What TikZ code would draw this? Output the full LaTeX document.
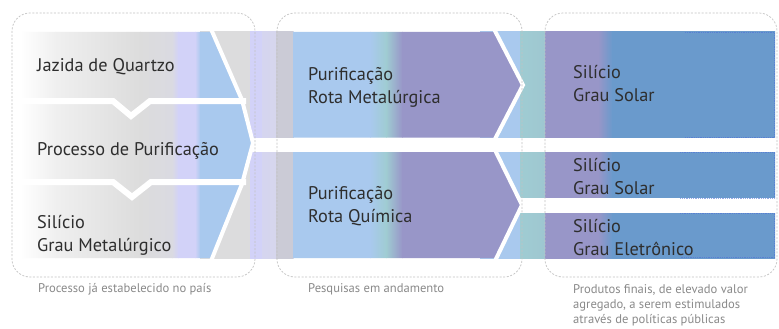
\documentclass[tikz,border=0pt]{standalone}
\usepackage{fontspec}
\setmainfont{PT Sans}
\definecolor{txt}{HTML}{2E2E2E}
\definecolor{capc}{HTML}{8A8A8A}
\definecolor{lblue}{HTML}{A9C9EE}
\definecolor{lav}{HTML}{D2D2F8}
\definecolor{purp}{HTML}{9896C8}
\definecolor{dblue}{HTML}{6A9ACC}
\definecolor{teal}{HTML}{9FCCD2}
\definecolor{lgrey}{HTML}{DCDCDC}
\definecolor{mgrey}{HTML}{CBCBD6}
\definecolor{dashc}{HTML}{C2C2C2}
\definecolor{edgeblue}{HTML}{4F6FD8}
\newcommand\bandstrip[4]{\shade[left color=#3,right color=#4] (#1,32) rectangle (#2,258);}
\begin{document}
\begin{tikzpicture}[x=1pt,y=-1pt,
  lbl/.style={anchor=base west,inner sep=0pt,font=\fontsize{18.3}{22.5}\selectfont,text=txt,align=left},
  captext/.style={anchor=base west,inner sep=0pt,font=\fontsize{12.6}{15}\selectfont,text=capc,align=left},
  sepline/.style={white,line width=6pt,line join=miter},
  edgeline/.style={white,line width=4pt,line join=miter},
  dbox/.style={draw=dashc,dash pattern=on 2pt off 1.6pt,line width=0.7pt,rounded corners=18pt},
  rimline/.style={draw=edgeblue,densely dotted,line width=0.8pt,opacity=0.6}]
\useasboundingbox (0,0) rectangle (779,329);
\fill[white] (0,0) rectangle (779,329);
% behind band 1
\bandstrip{200}{250.5}{lgrey}{lgrey!95!lav}
\bandstrip{250}{262.5}{lav}{lav}
\bandstrip{262}{276.5}{lav!70!lgrey}{lav!60!lgrey}
\bandstrip{276}{293.5}{mgrey}{mgrey}
% behind band 2
\bandstrip{480}{520.5}{lblue}{lblue}
\bandstrip{520}{545.5}{teal}{teal!90!purp}
% right products
\bandstrip{545}{598.5}{purp}{purp}
\bandstrip{598}{612.5}{purp}{dblue}
\bandstrip{612}{775}{dblue}{dblue}
% middle arrows
\begin{scope}
  \clip (293,32) -- (494,32) -- (523,85) -- (495,137.5) -- (293,137.5) -- cycle
        (293,151.5) -- (495,151.5) -- (522,205) -- (495,258) -- (293,258) -- cycle;
  \bandstrip{292}{370.5}{lblue}{lblue}
  \bandstrip{370}{386.5}{lblue}{teal}
  \bandstrip{386}{402.5}{teal}{purp}
  \bandstrip{402}{530}{purp}{purp}
\end{scope}
% left chevron
\begin{scope}
  \clip (20,32) -- (212,32) -- (242,100) -- (253,143) -- (242,184) -- (212,258) -- (20,258) -- cycle;
  \bandstrip{20}{55.5}{white}{white!94!black}
  \bandstrip{55}{140.5}{white!94!black}{lgrey}
  \bandstrip{140}{172.5}{lgrey}{lgrey!80!lav}
  \bandstrip{172}{178.5}{lgrey!80!lav}{lav}
  \bandstrip{178}{195.5}{lav}{lav}
  \bandstrip{195}{200.5}{lav}{lblue}
  \bandstrip{200}{260}{lblue}{lblue}
\end{scope}
% white separators
\draw[edgeline] (211,29) -- (242,100) -- (253,143) -- (242,184) -- (211,261);
\draw[sepline] (18,101) -- (113,101) -- (131,116) -- (150,101) -- (246,101);
\draw[sepline] (18,182) -- (113,182) -- (132,197) -- (151,182) -- (246,182);
\fill[white] (252,137.5) rectangle (779,151.5);
\fill[white] (520,198) rectangle (779,212.5);
\draw[edgeline] (494,29) -- (523,85) -- (495,139);
\draw[edgeline] (495,150) -- (522,205) -- (495,261);
% rims of product boxes
\draw[rimline] (685,32.5) -- (774.5,32.5) -- (774.5,137) -- (685,137);
\draw[rimline] (680,152) -- (774.5,152) -- (774.5,198) -- (680,198);
\draw[rimline] (680,213) -- (774.5,213) -- (774.5,257.5) -- (680,257.5);
% dashed group boxes
\draw[dbox] (12,13) rectangle (255,277);
\draw[dbox] (277,13) rectangle (522,277);
\draw[dbox] (545,13) rectangle (777,277);
% labels (base anchor = baseline of last line)
\node[lbl] (jaz) at (37,71) {Jazida de Quartzo};
\node[lbl] (proc) at (37,155) {Processo de Purificação};
\node[lbl] (simet) at (37,251) {Silício\\Grau Metalúrgico};
\node[lbl] (rmet) at (308,103) {Purificação\\Rota Metalúrgica};
\node[lbl] (rqui) at (308,222) {Purificação\\Rota Química};
\node[lbl] (sol1) at (573,101) {Silício\\Grau Solar};
\node[lbl] (sol2) at (573,194) {Silício\\Grau Solar};
\node[lbl] (ele) at (573,255) {Silício\\Grau Eletrônico};
\node[captext] (c1) at (38,292) {Processo já estabelecido no país};
\node[captext] (c2) at (308,292) {Pesquisas em andamento};
\node[captext] (c3) at (573,323) {Produtos finais, de elevado valor\\agregado, a serem estimulados\\através de políticas públicas};
\end{tikzpicture}
\end{document}
